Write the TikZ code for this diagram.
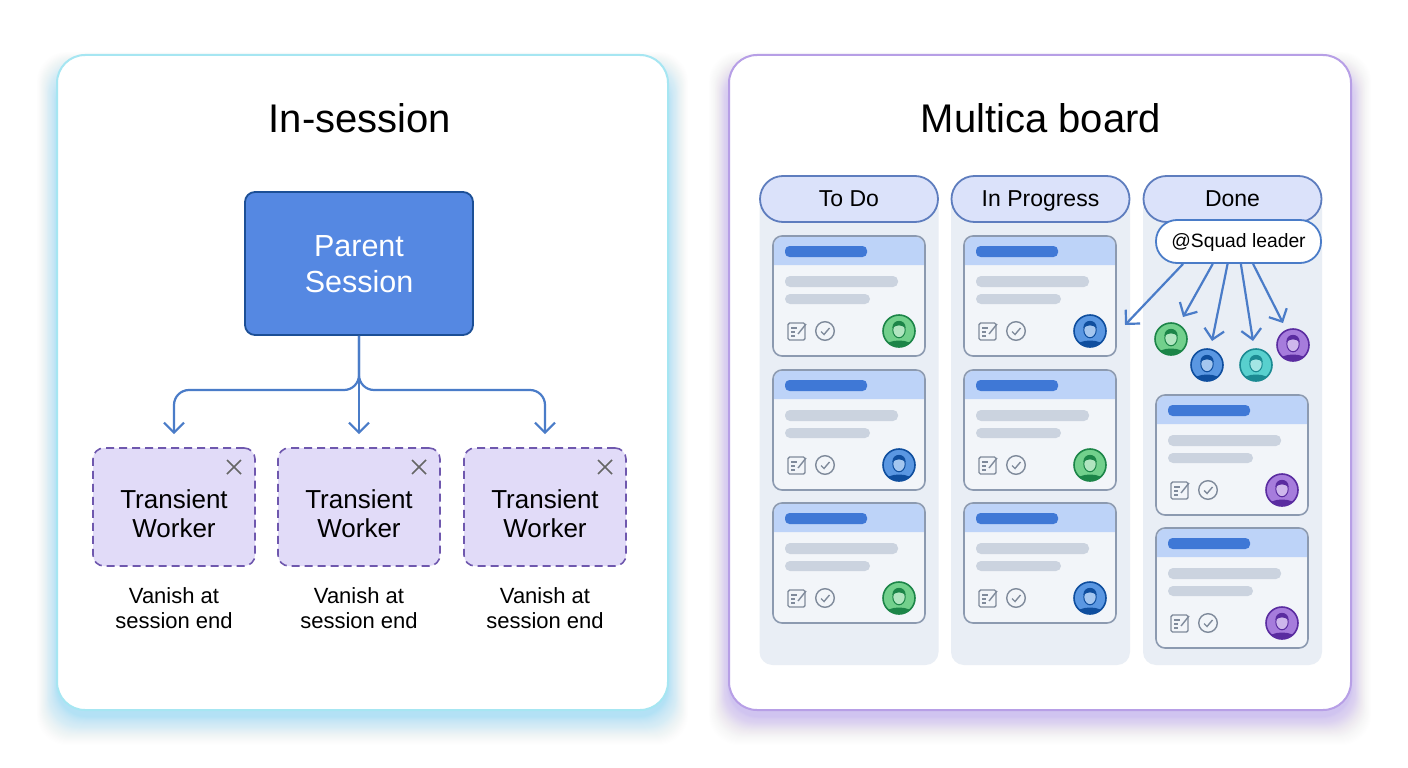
\documentclass[tikz,border=0pt]{standalone}
\usepackage{fontspec}
\setmainfont{Liberation Sans}
\usepackage{xcolor}
\usetikzlibrary{arrows.meta}

\definecolor{cyanline}{HTML}{A6E6F2}
\definecolor{cyanglow}{HTML}{5CDDF5}
\definecolor{violetline}{HTML}{B79FE6}
\definecolor{violetglow}{HTML}{A884F0}
\definecolor{linkblue}{HTML}{4A7CC8}
\definecolor{parentfill}{HTML}{5588E2}
\definecolor{parentline}{HTML}{1C4F96}
\definecolor{workerfill}{HTML}{E1DBF8}
\definecolor{workerline}{HTML}{6F58AE}
\definecolor{columnfill}{HTML}{E9EEF5}
\definecolor{pillfill}{HTML}{DBE2FA}
\definecolor{pillline}{HTML}{5E7DBE}
\definecolor{cardfill}{HTML}{F2F5F9}
\definecolor{cardline}{HTML}{8C9AB0}
\definecolor{bandfill}{HTML}{BDD3F8}
\definecolor{barblue}{HTML}{3F78D6}
\definecolor{bargray}{HTML}{CBD3DF}
\definecolor{icongray}{HTML}{7F8A9B}
\definecolor{greenfill}{HTML}{72D08C}
\definecolor{greenline}{HTML}{1C8548}
\definecolor{bluefill}{HTML}{5A97E2}
\definecolor{blueline}{HTML}{0F4E9E}
\definecolor{tealfill}{HTML}{58D0CE}
\definecolor{tealline}{HTML}{1B8A92}
\definecolor{purplefill}{HTML}{A67CDC}
\definecolor{purpleline}{HTML}{5A2CA0}

% one small person inside a disc: x, y, colour name
\newcommand{\avatar}[4]{%
\node[circle, draw=#3line, line width=1.6pt, fill=#3fill, minimum size=32pt, inner sep=0pt] (#4) at (#1,#2) {};
\begin{scope}
\clip (#1,#2) circle (15.5);
\fill[#3line] (#1-15,#2+17) .. controls (#1-14,#2+7) and (#1+14,#2+7) .. (#1+15,#2+17) -- cycle;
\end{scope}
\fill[#3fill!55!white, draw=#3line, line width=1pt] (#1,#2-1) ellipse (6.2 and 7.8);
\fill[#3line] (#1-6.6,#2-3) .. controls (#1-7,#2-12.5) and (#1+7,#2-12.5) .. (#1+6.6,#2-3) .. controls (#1+2.5,#2-6.5) and (#1-2.5,#2-6.5) .. (#1-6.6,#2-3) -- cycle;
}

% one task card: name, left, top, avatar colour
\newcommand{\taskcard}[4]{%
\node[cardbox] (#1) at (#2+76,#3+60) {};
\fill[bandfill] (#2+1,#3+29) [rounded corners=8pt] -- (#2+1,#3+1) -- (#2+151,#3+1) [sharp corners] -- (#2+151,#3+29) -- cycle;
\fill[barblue, rounded corners=4.5pt] (#2+12,#3+10) rectangle (#2+94,#3+21);
\fill[bargray, rounded corners=5pt] (#2+12,#3+40) rectangle (#2+125,#3+51);
\fill[bargray, rounded corners=5pt] (#2+12,#3+58) rectangle (#2+97,#3+68);
\draw[icon, rounded corners=1.5pt] (#2+15,#3+87) rectangle (#2+32,#3+104);
\draw[icon] (#2+18,#3+92) -- (#2+24,#3+92) (#2+18,#3+96) -- (#2+22,#3+96) (#2+18,#3+100) -- (#2+22,#3+100);
\draw[icon] (#2+25,#3+98) -- (#2+33,#3+88);
\draw[icon] (#2+52,#3+95) circle (9.3);
\draw[icon] (#2+48,#3+95.5) -- (#2+51,#3+98.5) -- (#2+56.5,#3+92);
\avatar{#2+126}{#3+95}{#4}{#1-who}
\draw[cardline, line width=1.6pt, rounded corners=9pt] (#2,#3) rectangle (#2+152,#3+120);
}

\begin{document}
\begin{tikzpicture}[
			     x=1pt, y=-1pt,
			     panel/.style={line width=2pt, fill=white, rounded corners=28pt},
			     title/.style={font=\fontsize{40}{46}\selectfont},
			     parentbox/.style={draw=parentline, line width=1.8pt, fill=parentfill, rounded corners=10pt, minimum width=228pt, minimum height=143pt},
			     parenttext/.style={text=white, align=center, font=\fontsize{30.5}{36}\selectfont},
			     workerbox/.style={draw=workerline, line width=1.6pt, dash pattern=on 8pt off 5pt, fill=workerfill, rounded corners=11pt, minimum width=162pt, minimum height=118pt},
			     workertext/.style={align=center, font=\fontsize{26}{29.5}\selectfont},
			     note/.style={align=center, font=\fontsize{22}{25}\selectfont},
			     columnbox/.style={fill=columnfill, rounded corners=13pt, minimum width=179pt, minimum height=470pt},
			     headpill/.style={draw=pillline, line width=1.8pt, fill=pillfill, rounded corners=23pt, minimum width=178pt, minimum height=46pt, text height=18pt, text depth=3pt, font=\fontsize{23}{27}\selectfont},
			     leaderpill/.style={draw=linkblue, line width=1.8pt, fill=white, rounded corners=21pt, minimum width=165pt, minimum height=43pt, text height=15.5pt, text depth=3pt, font=\fontsize{19.3}{23}\selectfont},
			     cardbox/.style={fill=cardfill, rounded corners=9pt, minimum width=152pt, minimum height=120pt},
			     icon/.style={draw=icongray, line width=1.4pt},
			     link/.style={draw=linkblue, line width=2.2pt, -{Straight Barb[length=10pt,width=20pt]}},
			     closemark/.style={draw=black!60, line width=1.6pt}
			     ]
\useasboundingbox (0,0) rectangle (1408,768);
\fill[white] (0,0) rectangle (1408,768);

% glow under the two panels
\foreach \r in {1,...,30} {
\pgfmathsetmacro{\glow}{0.001*(31-\r)}
\fill[cyanglow, opacity=\glow, rounded corners=30pt] (57-0.7*\r,72-0.7*\r) rectangle (668+0.7*\r,716+\r);
\fill[violetglow, opacity=\glow, rounded corners=30pt] (729-0.7*\r,72-0.7*\r) rectangle (1351+0.7*\r,716+\r);
}
\draw[panel, draw=cyanline] (57,55) rectangle (668,710);
\draw[panel, draw=violetline] (729,55) rectangle (1351,710);

\node[title] (intitle) at (360,118) {In-session};
\node[title] (boardtitle) at (1041,118) {Multica board};

% left panel
\node[parentbox] (parent) at (359,263.5) {};
\node[parenttext] (parentlabel) at (359,264.5) {Parent\\Session};
\foreach \i/\xpos in {1/174,2/359,3/545} {
\node[workerbox] (w\i) at (\xpos,507) {};
\node[workertext] (t\i) at (\xpos,513.5) {Transient\\Worker};
\node[note] (n\i) at (\xpos,608) {Vanish at\\session end};
\draw[closemark] (\xpos+53,460) -- (\xpos+67,474) (\xpos+67,460) -- (\xpos+53,474);
}
\coordinate (bend1) at (174,390);
\coordinate (bend3) at (545,390);
\draw[link, rounded corners=15pt, shorten >=13pt] (parent.south) |- (bend1) -- (w1.north);
\draw[link, shorten >=13pt] (parent.south) -- (w2.north);
\draw[link, rounded corners=15pt, shorten >=13pt] (parent.south) |- (bend3) -- (w3.north);

% right panel, columns
\node[columnbox] (c1) at (849,430) {};
\node[columnbox] (c2) at (1040.5,430) {};
\node[columnbox] (c3) at (1232.5,430) {};
\node[headpill] (h1) at (849,199) {To Do};
\node[headpill] (h2) at (1040.5,199) {In Progress};
\node[headpill] (h3) at (1232.5,199) {Done};

\taskcard{a1}{773}{236}{green}
\taskcard{a2}{773}{370}{blue}
\taskcard{a3}{773}{503}{green}
\taskcard{b1}{964}{236}{blue}
\taskcard{b2}{964}{370}{green}
\taskcard{b3}{964}{503}{blue}
\taskcard{d1}{1156}{395}{purple}
\taskcard{d2}{1156}{528}{purple}

% squad leader and its people
\avatar{1171}{339}{green}{s1}
\avatar{1207}{365}{blue}{s2}
\avatar{1256}{365}{teal}{s3}
\avatar{1293}{345}{purple}{s4}
\node[leaderpill] (squad) at (1238.5,241.5) {@Squad leader};
\coordinate (tip0) at (1125,325);
\coordinate (tip1) at (1183,317);
\coordinate (tip2) at (1212,341);
\coordinate (tip3) at (1253,341);
\coordinate (tip4) at (1283,323);
\draw[link] (squad.202) -- (tip0);
\draw[link] (squad.221) -- (tip1);
\draw[link] (squad.244) -- (tip2);
\draw[link] (squad.276) -- (tip3);
\draw[link] (squad.303) -- (tip4);
\end{tikzpicture}
\end{document}
